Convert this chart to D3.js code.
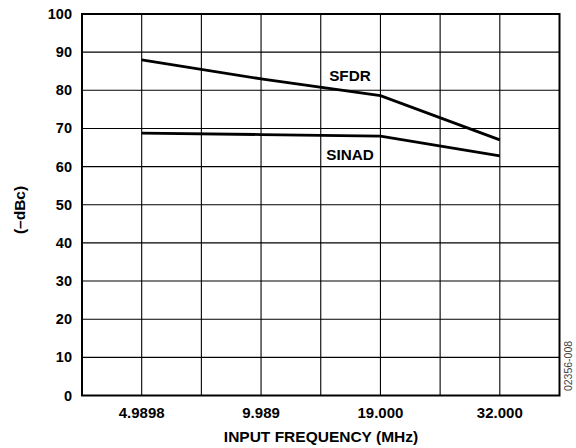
<!DOCTYPE html>
<html>
<head>
<meta charset="utf-8">
<script src="https://cdn.jsdelivr.net/npm/d3@7"></script>
<style>
  body { margin: 0; background: #fff; }
  text { font-family: "Liberation Sans", Arial, sans-serif; font-weight: bold; fill: #000; }
</style>
</head>
<body>
<div id="chart"></div>
<script>
// input frequency categories (MHz)
const freqs = ["4.9898", "9.989", "19.000", "32.000"];
// values, -dBc
const sfdr = [88, 83, 78.6, 67];
const sinad = [68.8, 68.4, 68, 62.8];
const yTicks = [0, 10, 20, 30, 40, 50, 60, 70, 80, 90, 100];

const width = 576, height = 448;
const plotLeft = 82, plotRight = 559.5, plotTop = 14, plotBottom = 395.5;

const svg = d3.select("#chart").append("svg")
  .attr("width", width)
  .attr("height", height);

const x = d3.scalePoint().domain(freqs).range([plotLeft, plotRight]).padding(0.5);
const y = d3.scaleLinear().domain([0, 100]).range([plotBottom, plotTop]);

// vertical grid every half step (8 columns)
const step = x.step();
const vgrid = d3.range(1, 8).map(i => plotLeft + i * step / 2);
svg.append("g").selectAll("line")
  .data(vgrid)
  .enter().append("line")
  .attr("x1", d => d).attr("x2", d => d)
  .attr("y1", plotTop).attr("y2", plotBottom)
  .attr("stroke", "#000").attr("stroke-width", 1.1);

svg.append("g").selectAll("line")
  .data(yTicks.slice(1, -1))
  .enter().append("line")
  .attr("x1", plotLeft).attr("x2", plotRight)
  .attr("y1", d => y(d)).attr("y2", d => y(d))
  .attr("stroke", "#000").attr("stroke-width", 1.1);

// frame
svg.append("rect")
  .attr("x", plotLeft).attr("y", plotTop)
  .attr("width", plotRight - plotLeft).attr("height", plotBottom - plotTop)
  .attr("fill", "none").attr("stroke", "#000").attr("stroke-width", 2);

// y tick labels
svg.append("g").selectAll("text")
  .data(yTicks)
  .enter().append("text")
  .attr("x", plotLeft - 10)
  .attr("y", d => y(d) + 5)
  .attr("text-anchor", "end")
  .style("font-size", "14.5px")
  .text(d => d);

// x tick labels
svg.append("g").selectAll("text")
  .data(freqs)
  .enter().append("text")
  .attr("x", d => x(d))
  .attr("y", 418)
  .attr("text-anchor", "middle")
  .style("font-size", "15px")
  .text(d => d);

svg.append("text")
  .attr("x", 321).attr("y", 442)
  .attr("text-anchor", "middle")
  .style("font-size", "15.5px")
  .text("INPUT FREQUENCY (MHz)");

svg.append("text")
  .attr("transform", "translate(25,210) rotate(-90)")
  .attr("text-anchor", "middle")
  .style("font-size", "15.5px")
  .text("(–dBc)");

svg.append("text")
  .attr("transform", "translate(572,366) rotate(-90)")
  .attr("text-anchor", "middle")
  .style("font-size", "10.5px")
  .style("font-weight", "normal")
  .style("fill", "#444")
  .text("02356-008");

const line = d3.line()
  .x((d, i) => x(freqs[i]))
  .y(d => y(d));

[sfdr, sinad].forEach(s => {
  svg.append("path")
    .datum(s)
    .attr("d", line)
    .attr("fill", "none")
    .attr("stroke", "#000")
    .attr("stroke-width", 2.8);
});

svg.append("text")
  .attr("x", 350).attr("y", 81)
  .attr("text-anchor", "middle")
  .style("font-size", "15.3px")
  .text("SFDR");

svg.append("text")
  .attr("x", 350).attr("y", 159.5)
  .attr("text-anchor", "middle")
  .style("font-size", "15.3px")
  .text("SINAD");
</script>
</body>
</html>
